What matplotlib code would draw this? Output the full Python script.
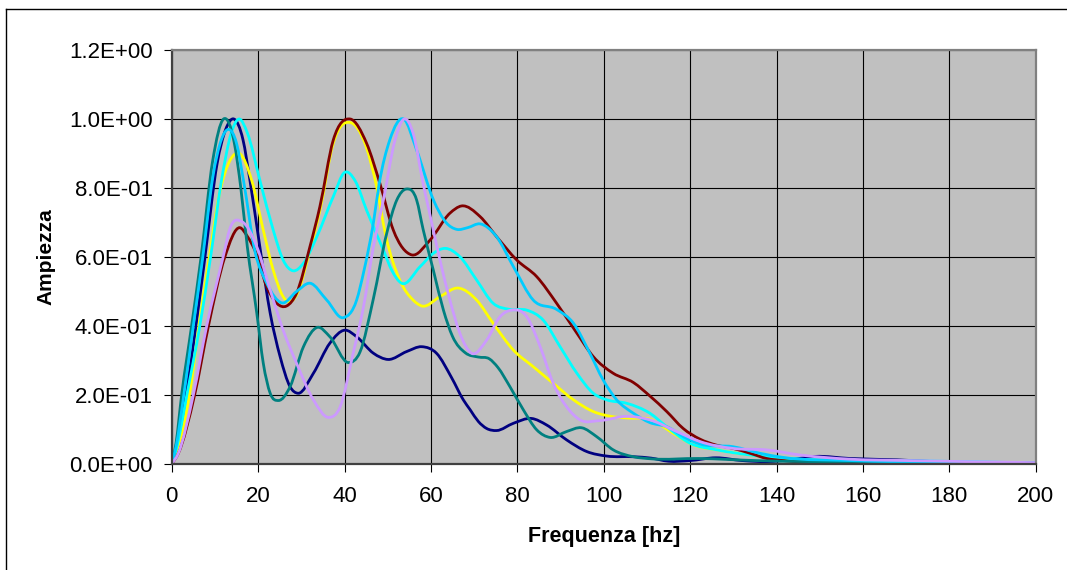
import numpy as np
import matplotlib
matplotlib.use('Agg')
import matplotlib.pyplot as plt
from matplotlib.path import Path
from matplotlib.patches import PathPatch
from matplotlib.lines import Line2D

plt.rcParams['font.family'] = ['Liberation Sans', 'DejaVu Sans']

# spectra (frequency [hz], amplitude)
navy_f = [0, 1, 3.3, 5.6, 7.7, 10.5, 12.5, 14.4, 16.5, 18.1, 20.4, 22.8, 25.1, 27.4, 29.3, 32.8, 36.6, 40.1,
          42.8, 46.7, 50.1, 54.4, 57.9, 61.3, 64.8, 67.5, 69.1, 71, 72.9, 75.2, 79.1, 83.3, 86.8, 91.4, 96.1,
          100.7, 107, 111, 115, 120, 126, 132, 138, 143, 149, 157, 168, 180, 200]
navy_v = [0, 0.04, 0.2, 0.4, 0.6, 0.87, 0.97, 1.0, 0.94, 0.823, 0.63, 0.437, 0.311, 0.224, 0.205, 0.263, 0.35,
          0.388, 0.369, 0.321, 0.303, 0.326, 0.34, 0.321, 0.25, 0.186, 0.157, 0.123, 0.103, 0.097, 0.118, 0.132,
          0.113, 0.07, 0.036, 0.023, 0.021, 0.017, 0.008, 0.01, 0.018, 0.01, 0.007, 0.012, 0.022, 0.016, 0.012,
          0.005, 0.003]

yellow_f = [0, 1, 4.1, 6.3, 8.7, 11, 13.5, 15.7, 18.5, 21.2, 23.5, 25.8, 27, 28.9, 32, 34.3, 37.4, 41.3, 45,
            47.5, 49.5, 52.8, 55.9, 57.9, 62.1, 66.3, 70.6, 74.4, 79.1, 83.7, 88.3, 93, 97.6, 102.2, 106, 110.7,
            116.1, 120.8, 126.2, 133.9, 141.5, 160, 200]
yellow_v = [0, 0.03, 0.2, 0.4, 0.6, 0.78, 0.88, 0.90, 0.823, 0.678, 0.562, 0.485, 0.47, 0.49, 0.62, 0.735,
            0.93, 0.99, 0.92, 0.80, 0.665, 0.533, 0.475, 0.458, 0.485, 0.51, 0.475, 0.408, 0.33, 0.282, 0.234,
            0.186, 0.152, 0.137, 0.133, 0.13, 0.089, 0.055, 0.041, 0.026, 0.016, 0.008, 0.003]

cyan_f = [0, 1, 3.5, 6.5, 9, 11.5, 13.8, 15.6, 17.5, 20.4, 23.5, 25.8, 28.1, 30.5, 33.6, 37.4, 40, 42.5, 45.1,
          49, 51, 53.2, 57.5, 60.5, 63.3, 66.7, 70.6, 74.4, 78.3, 82.2, 86, 89.9, 93.8, 97.6, 100.7, 105.3,
          110.7, 114.6, 120, 126.2, 133.9, 145.5, 169, 200]
cyan_v = [0, 0.04, 0.2, 0.4, 0.6, 0.82, 0.96, 1.0, 0.96, 0.823, 0.678, 0.591, 0.56, 0.582, 0.659, 0.775, 0.845,
          0.82, 0.736, 0.62, 0.56, 0.524, 0.572, 0.61, 0.625, 0.601, 0.533, 0.466, 0.448, 0.446, 0.417, 0.34,
          0.263, 0.205, 0.186, 0.176, 0.147, 0.108, 0.06, 0.041, 0.026, 0.014, 0.01, 0.003]

maroon_f = [0, 1.5, 5.3, 8.5, 12.3, 15.8, 17.5, 19.4, 22, 24.3, 26.6, 28.9, 32, 34.3, 37.4, 41.3, 45.1, 48.2,
            51.3, 55.6, 59.8, 64.4, 67.1, 71.4, 75.2, 79.9, 84.5, 89.1, 93.8, 97.6, 102.2, 106.9, 110.7, 114.6,
            118.4, 122.3, 126, 130, 133.9, 137.7, 141.5, 160, 200]
maroon_v = [0, 0.03, 0.2, 0.4, 0.6, 0.685, 0.66, 0.615, 0.514, 0.466, 0.458, 0.495, 0.63, 0.746, 0.939, 1.0,
            0.93, 0.813, 0.678, 0.606, 0.649, 0.727, 0.748, 0.717, 0.659, 0.591, 0.543, 0.466, 0.379, 0.311,
            0.263, 0.236, 0.197, 0.152, 0.103, 0.072, 0.055, 0.045, 0.031, 0.016, 0.01, 0.005, 0.002]

teal_f = [0, 1, 2.3, 4.6, 6.8, 9.5, 12, 14.5, 16, 17.5, 19.7, 21.2, 22.8, 24.7, 27.4, 30.5, 33.7, 36.6, 40.9,
          43.6, 46.7, 49.8, 52.1, 54.3, 56.7, 58.2, 60.6, 62.9, 65, 68, 71, 73.5, 75.5, 78.3, 81.4, 84.5, 87.6,
          91.4, 94.9, 98.4, 102.2, 106.9, 111, 122, 135, 160, 200]
teal_v = [0, 0.06, 0.2, 0.4, 0.6, 0.88, 1.0, 0.93, 0.80, 0.63, 0.437, 0.292, 0.205, 0.184, 0.224, 0.34, 0.396,
          0.369, 0.294, 0.325, 0.48, 0.67, 0.765, 0.797, 0.765, 0.68, 0.56, 0.446, 0.37, 0.322, 0.31, 0.305,
          0.28, 0.224, 0.157, 0.099, 0.077, 0.094, 0.105, 0.079, 0.041, 0.021, 0.015, 0.016, 0.01, 0.005, 0.003]

sky_f = [0, 1, 2.8, 5.0, 7.2, 9.5, 11.5, 13.2, 15, 16.6, 19.3, 22, 25.5, 28.9, 32, 35.9, 39.7, 42.8, 44.5, 46.7,
         48, 50.5, 53.7, 56.7, 60.6, 63.5, 66, 68.5, 71.4, 75.2, 79.1, 83.7, 89.1, 93, 96.8, 99.9, 103, 106.9,
         110.7, 114.6, 119.2, 122.3, 130, 136.2, 141.6, 157, 200]
sky_v = [0, 0.05, 0.2, 0.4, 0.6, 0.83, 0.94, 0.97, 0.93, 0.823, 0.615, 0.524, 0.467, 0.5, 0.524, 0.475, 0.424,
         0.475, 0.56, 0.7, 0.81, 0.94, 1.0, 0.91, 0.765, 0.70, 0.68, 0.685, 0.696, 0.659, 0.572, 0.475, 0.448,
         0.408, 0.321, 0.243, 0.186, 0.147, 0.12, 0.108, 0.074, 0.058, 0.05, 0.031, 0.019, 0.01, 0.003]

violet_f = [0, 1.5, 5, 8.1, 11.9, 13.5, 16.3, 19.7, 22.8, 25.8, 28.9, 32.8, 36.3, 39, 42, 44.4, 46.7, 49, 51.7,
            53.8, 55.9, 58.2, 60, 62.1, 64.4, 66.7, 69.4, 72.9, 76, 78.7, 82.2, 85.3, 88.3, 91.4, 94.5, 99.1,
            105.3, 110.7, 116.9, 122.3, 130, 137.7, 145.5, 157, 170, 200]
violet_v = [0, 0.03, 0.2, 0.4, 0.6, 0.683, 0.702, 0.63, 0.504, 0.388, 0.292, 0.186, 0.135, 0.166, 0.321, 0.456,
            0.63, 0.765, 0.939, 1.0, 0.958, 0.813, 0.71, 0.591, 0.475, 0.379, 0.321, 0.359, 0.427, 0.446, 0.427,
            0.34, 0.234, 0.166, 0.128, 0.126, 0.138, 0.128, 0.094, 0.065, 0.045, 0.041, 0.026, 0.014, 0.01, 0.004]

series = [
    (navy_f, navy_v, '#000080'),
    (yellow_f, yellow_v, '#FFFF00'),
    (cyan_f, cyan_v, '#00FFFF'),
    (maroon_f, maroon_v, '#800000'),
    (teal_f, teal_v, '#008080'),
    (sky_f, sky_v, '#00CCFF'),
    (violet_f, violet_v, '#CC99FF'),
]

xticks = np.arange(0, 201, 20)
yticks = np.arange(0, 1.21, 0.2)


def smooth_path(x, y):
    # Excel style smoothed line: cubic bezier through every point
    x = np.asarray(x, float)
    y = np.asarray(y, float)
    m = np.gradient(y, x, edge_order=1)
    verts = [(x[0], y[0])]
    codes = [Path.MOVETO]
    for i in range(len(x) - 1):
        h = x[i + 1] - x[i]
        verts += [(x[i] + h / 3, y[i] + m[i] * h / 3),
                  (x[i + 1] - h / 3, y[i + 1] - m[i + 1] * h / 3),
                  (x[i + 1], y[i + 1])]
        codes += [Path.CURVE4] * 3
    return Path(verts, codes)


W, H = 1067, 570
fig = plt.figure(figsize=(W / 100, H / 100), dpi=100)
ax = fig.add_axes([171.7 / W, 106 / H, 864 / W, 414 / H])
ax.set_facecolor('#C0C0C0')

for f, v, c in series:
    ax.add_patch(PathPatch(smooth_path(f, v), fill=False, edgecolor=c, lw=2.0,
                           capstyle='round', joinstyle='round'))

ax.set_xlim(0, 200)
ax.set_ylim(0, 1.2)
ax.set_xticks(xticks)
ax.set_yticks(yticks)
ax.set_xticklabels([str(t) for t in xticks])
ax.set_yticklabels(['%.1E' % t for t in yticks])
ax.tick_params(axis='both', direction='out', length=5.5, width=0.8, color='black', labelsize=16)
ax.tick_params(axis='x', pad=10.5)
ax.tick_params(axis='y', pad=8)

ax.set_axisbelow(True)
ax.grid(True, color='black', linewidth=0.8)

for side in ['top', 'right']:
    ax.spines[side].set_color('#808080')
    ax.spines[side].set_linewidth(1.6)
for side in ['left', 'bottom']:
    ax.spines[side].set_color('#404040')
    ax.spines[side].set_linewidth(1.6)

ax.set_xlabel('Frequenza [hz]', fontsize=15.5, fontweight='bold')
ax.set_ylabel('Ampiezza', fontsize=15, fontweight='bold')
ax.xaxis.label.set_va('center')
ax.yaxis.label.set_va('center')
ax.xaxis.set_label_coords(0.5, -0.174)
ax.yaxis.set_label_coords(-0.146, 0.5)

# outer chart frame (only top and left edges fall inside the picture)
x0 = 6 / W
y1 = 1 - 9 / H
fig.add_artist(Line2D([x0, x0], [0, y1], transform=fig.transFigure, color='black', lw=1))
fig.add_artist(Line2D([x0, 1], [y1, y1], transform=fig.transFigure, color='black', lw=1))

fig.savefig('out.png', dpi=100)
